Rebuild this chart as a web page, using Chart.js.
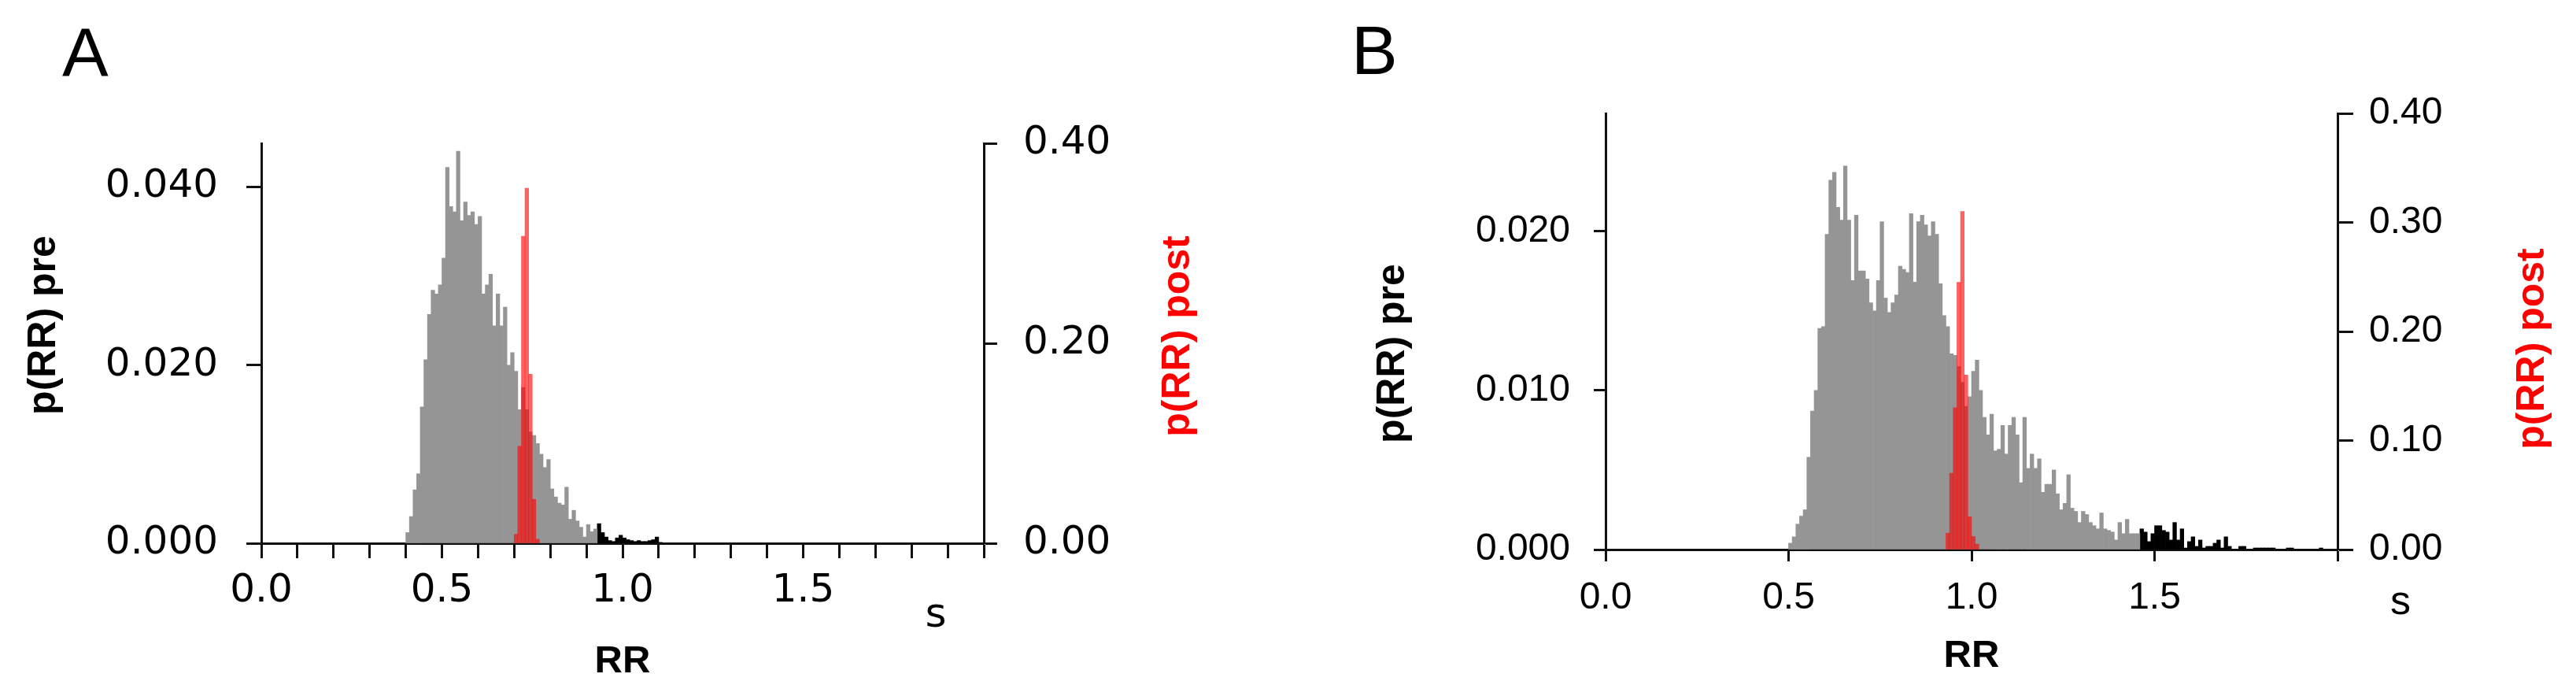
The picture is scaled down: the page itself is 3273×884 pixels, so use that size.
<!DOCTYPE html>
<html>
<head>
<meta charset="utf-8">
<title>RR histograms</title>
<script src="https://cdn.jsdelivr.net/npm/chart.js@4.4.1/dist/chart.umd.min.js"></script>
<style>
  html, body { margin: 0; padding: 0; background: #fff; }
  #wrap { position: relative; width: 3273px; height: 884px; }
  canvas { position: absolute; top: 0; }
  #chartA { left: 0; }
  #chartB { left: 1640px; }
</style>
</head>
<body>
<div id="wrap">
  <canvas id="chartA" width="1640" height="884"></canvas>
  <canvas id="chartB" width="1633" height="884"></canvas>
</div>
<script>
const binWidth = 0.01;
const xTickLabels = ['0.0', '0.5', '1.0', '1.5'];

// panel A: pre histogram (grey), its long tail (black), post histogram (red)
const aPreStart = 0.40;
const aPre = [
  0.0012, 0.0030, 0.0060, 0.0078, 0.0153, 0.0206, 0.0257, 0.0284, 0.0280, 0.0290,
  0.0320, 0.0422, 0.0378, 0.0372, 0.0440, 0.0362, 0.0383, 0.0368, 0.0372, 0.0358,
  0.0367, 0.0280, 0.0290, 0.0302, 0.0244, 0.0280, 0.0244, 0.0265, 0.0200, 0.0214,
  0.0193, 0.0150, 0.0175, 0.0150, 0.0125, 0.0121, 0.0112, 0.0100, 0.0085, 0.0094,
  0.0061, 0.0052, 0.0045, 0.0043, 0.0063, 0.0027, 0.0037, 0.0025, 0.0018, 0.0007,
  0.0021, 0.0013, 0.0016
];
const aTailStart = 0.93;
const aTail = [
  0.0022, 0.0012, 0.0007, 0.0003, 0.0002, 0.0006, 0.0009, 0.0006, 0.0004, 0.0003,
  0.0002, 0.0003, 0.0002, 0.0002, 0.0003, 0.0004, 0.0007, 0.0001
];
const aPostStart = 0.70;
const aPost = [0.009, 0.097, 0.307, 0.355, 0.169, 0.044, 0.004];
const aPreTickLabels = ['0.000', '0.020', '0.040'];
const aPostTickLabels = ['0.00', '0.20', '0.40'];

// panel B
const bPreStart = 0.50;
const bPre = [
  0.0004, 0.0008, 0.0016, 0.0021, 0.0025, 0.0058, 0.0087, 0.0100, 0.0139, 0.0140,
  0.0198, 0.0232, 0.0237, 0.0215, 0.0207, 0.0241, 0.0207, 0.0169, 0.0210, 0.0175,
  0.0175, 0.0170, 0.0155, 0.0150, 0.0169, 0.0206, 0.0158, 0.0149, 0.0155, 0.0160,
  0.0178, 0.0176, 0.0174, 0.0211, 0.0168, 0.0206, 0.0210, 0.0204, 0.0197, 0.0206,
  0.0198, 0.0167, 0.0147, 0.0140, 0.0123, 0.0122, 0.0115, 0.0105, 0.0090, 0.0096,
  0.0112, 0.0119, 0.0100, 0.0083, 0.0072, 0.0085, 0.0062, 0.0063, 0.0078, 0.0060,
  0.0078, 0.0083, 0.0072, 0.0042, 0.0083, 0.0051, 0.0060, 0.0051, 0.0057, 0.0036,
  0.0041, 0.0041, 0.0050, 0.0035, 0.0025, 0.0029, 0.0047, 0.0026, 0.0024, 0.0017,
  0.0024, 0.0022, 0.0017, 0.0015, 0.0013, 0.0023, 0.0013, 0.0012, 0.0011, 0.0006,
  0.0017, 0.0010, 0.0019, 0.0010, 0.0010, 0.0010
];
const bTailStart = 1.46;
const bTail = [
  0.0013, 0.0011, 0.0005, 0.0010, 0.0015, 0.0015, 0.0012, 0.0011, 0.0006, 0.0017,
  0.0006, 0.0013, 0.0001, 0.0005, 0.0008, 0.0002, 0.0006, 0.0001, 0.0002, 0.0002,
  0.0004, 0.0006, 0.0001, 0.0008, 0.0002, 0, 0, 0.0002, 0.0002, 0,
  0, 0.0001, 0.0001, 0.0001, 0.0001, 0.0001, 0.0001, 0, 0, 0,
  0.0001, 0.0001, 0, 0, 0, 0, 0, 0, 0, 0.0001
];
const bPostStart = 0.93;
const bPost = [0.015, 0.070, 0.130, 0.245, 0.310, 0.160, 0.030, 0.012, 0.005];
const bPreTickLabels = ['0.000', '0.010', '0.020'];
const bPostTickLabels = ['0.00', '0.10', '0.20', '0.30', '0.40'];

const axisColor = '#111';

function toBars(start, values) {
  return values.map((v, i) => ({ x: +(start + (i + 0.5) * binWidth).toFixed(3), y: v }));
}

function drawUpText(ctx, text, x, y, color) {
  ctx.save();
  ctx.translate(x, y);
  ctx.rotate(-Math.PI / 2);
  ctx.font = 'bold 50px "Liberation Sans"';
  ctx.fillStyle = color;
  ctx.textAlign = 'center';
  ctx.textBaseline = 'middle';
  ctx.fillText(text, 0, 0);
  ctx.restore();
}

// panel letter, "s" unit and the two y titles (both read bottom to top, as in the figure)
const panelText = {
  id: 'panelText',
  afterDraw(chart, args, opts) {
    const ctx = chart.ctx;
    const area = chart.chartArea;
    const midY = (area.top + area.bottom) / 2;
    ctx.save();
    ctx.fillStyle = '#000';
    ctx.textBaseline = 'alphabetic';
    ctx.font = opts.letterFont;
    ctx.textAlign = 'left';
    ctx.fillText(opts.letter, opts.letterX, opts.letterY);
    ctx.font = opts.unitFont;
    ctx.textAlign = 'center';
    ctx.fillText(opts.unit, area.right + opts.unitDx, area.bottom + opts.unitDy);
    ctx.restore();

    drawUpText(ctx, opts.preTitle, area.left + opts.preDx, midY + opts.preDy, '#000');
    drawUpText(ctx, opts.postTitle, area.right + opts.postDx, midY + opts.postDy, '#ff0000');
  }
};

const barStyle = { barPercentage: 1, categoryPercentage: 1, grouped: false, borderWidth: 0 };

function tickGrid(len) {
  return { drawOnChartArea: false, drawTicks: true, tickLength: len, tickWidth: 3, tickColor: axisColor, offset: false };
}

function makePanel(id, p) {
  return new Chart(document.getElementById(id), {
    type: 'bar',
    data: {
      datasets: [
        Object.assign({ label: 'p(RR) post', data: toBars(p.postStart, p.post), backgroundColor: 'rgba(255, 0, 0, 0.62)', yAxisID: 'y2', order: 0 }, barStyle),
        Object.assign({ label: 'p(RR) pre', data: toBars(p.preStart, p.pre), backgroundColor: '#959595', yAxisID: 'y', order: 1 }, barStyle),
        Object.assign({ label: 'p(RR) pre tail', data: toBars(p.tailStart, p.tail), backgroundColor: '#000', yAxisID: 'y', order: 1 }, barStyle)
      ]
    },
    options: {
      responsive: false,
      animation: false,
      devicePixelRatio: 1,
      layout: { padding: { top: p.top, left: 0, right: 0, bottom: 0 } },
      plugins: {
        legend: { display: false },
        tooltip: { enabled: false },
        panelText: p.text
      },
      scales: {
        x: {
          type: 'linear', min: 0, max: 2, offset: false,
          afterFit: s => { s.height = p.xHeight; },
          grid: tickGrid(p.xTickLen),
          border: { display: true, color: axisColor, width: 3 },
          ticks: {
            stepSize: p.xStep, autoSkip: false, maxRotation: 0, minRotation: 0,
            padding: p.xPad, color: '#000', font: p.tickFont,
            callback: v => {
              const k = Math.round(v * 10);
              return (k % 5 === 0 && xTickLabels[k / 5] !== undefined) ? xTickLabels[k / 5] : '';
            }
          },
          title: { display: true, text: 'RR', color: '#000', font: { family: 'Liberation Sans', size: 49, weight: 'bold', lineHeight: 1.2 }, padding: { top: 0, bottom: p.rrPad } }
        },
        y: {
          position: 'left', min: 0, max: p.yMax,
          afterFit: s => { s.width = p.yWidth; },
          grid: tickGrid(p.yTickLen),
          border: { display: true, color: axisColor, width: 3 },
          ticks: {
            stepSize: p.yStep, includeBounds: false, padding: p.yPad, color: '#000', font: p.tickFont,
            callback: (v, i) => p.yLabels[i]
          }
        },
        y2: {
          position: 'right', min: 0, max: p.y2Max,
          afterFit: s => { s.width = p.y2Width; },
          grid: tickGrid(p.y2TickLen),
          border: { display: true, color: axisColor, width: 3 },
          ticks: {
            stepSize: p.y2Step, includeBounds: false, padding: p.y2Pad, color: '#000', font: p.tickFont,
            callback: (v, i) => p.y2Labels[i]
          }
        }
      }
    },
    plugins: [panelText]
  });
}

makePanel('chartA', {
  preStart: aPreStart, pre: aPre, tailStart: aTailStart, tail: aTail, postStart: aPostStart, post: aPost,
  top: 182, yWidth: 332, y2Width: 390, xHeight: 194,
  yMax: 0.0449, yStep: 0.02, yLabels: aPreTickLabels,
  y2Max: 0.4, y2Step: 0.2, y2Labels: aPostTickLabels,
  xStep: 0.1,
  tickFont: { family: 'DejaVu Sans', size: 50, lineHeight: 1.2 },
  xTickLen: 19, yTickLen: 19, y2TickLen: 17,
  xPad: 12, yPad: 36, y2Pad: 33,
  rrPad: 14,
  text: {
    letter: 'A', letterX: 79, letterY: 97, letterFont: '88px "Liberation Sans"',
    unit: 's', unitFont: '52px "DejaVu Sans"', unitDx: -61, unitDy: 106,
    preTitle: 'p(RR) pre', preDx: -276, preDy: -23,
    postTitle: 'p(RR) post', postDx: 247, postDy: -9
  }
});

makePanel('chartB', {
  preStart: bPreStart, pre: bPre, tailStart: bTailStart, tail: bTail, postStart: bPostStart, post: bPost,
  top: 144, yWidth: 400, y2Width: 303, xHeight: 186,
  yMax: 0.0274, yStep: 0.01, yLabels: bPreTickLabels,
  y2Max: 0.4, y2Step: 0.1, y2Labels: bPostTickLabels,
  xStep: 0.5,
  tickFont: { family: 'Liberation Sans', size: 48, lineHeight: 1.2 },
  xTickLen: 15, yTickLen: 15, y2TickLen: 20,
  xPad: 18, yPad: 30, y2Pad: 20,
  rrPad: 21,
  text: {
    letter: 'B', letterX: 77, letterY: 94, letterFont: '88px "Liberation Sans"',
    unit: 's', unitFont: '52px "Liberation Sans"', unitDx: 80, unitDy: 82,
    preTitle: 'p(RR) pre', preDx: -270, preDy: 28,
    postTitle: 'p(RR) post', postDx: 248, postDy: 22
  }
});
</script>
</body>
</html>
